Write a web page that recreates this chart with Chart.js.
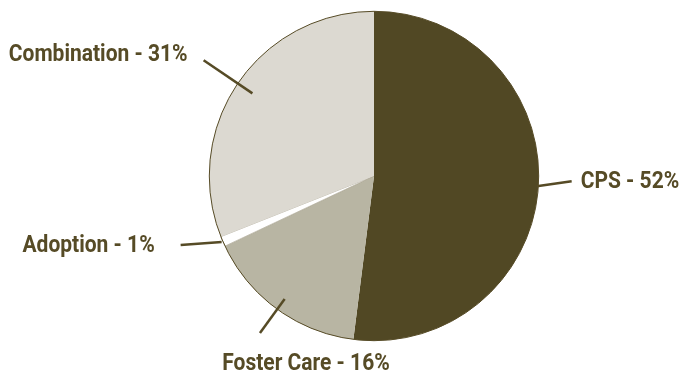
<!DOCTYPE html>
<html>
<head>
<meta charset="utf-8">
<script src="https://cdn.jsdelivr.net/npm/chart.js@4/dist/chart.umd.min.js"></script>
<style>
  html, body { margin: 0; padding: 0; background: #fff; }
  #wrap { width: 683px; height: 374px; }
</style>
</head>
<body>
<div id="wrap"><canvas id="programPie" width="683" height="374"></canvas></div>
<script>
// === Data ===
const categories = ["CPS", "Foster Care", "Adoption", "Combination"];
const shares = [52, 16, 1, 31];
const sliceColors = ["#514824", "#b8b5a3", "#ffffff", "#dcd9d1"];

// Leader line + label placement per slice (radii along the slice middle, text offset from line end)
const labelSpots = [
  { rIn: 163, tailX: 35, tailY: -5, dx: 9, dy: 1, align: "left" },
  { rIn: 152, rOut: 194, dx: 46, dy: 31, align: "center" },
  { rIn: 166, tailX: -41, tailY: 3, dx: -26, dy: 1, align: "right" },
  { rIn: 147, rOut: 206, dx: -16, dy: -5, align: "right" }
];

const ink = "#564b26";
const squeeze = 0.875; // narrow the bold face horizontally

// === Labels with leader lines ===
const leaderLabels = {
  id: "leaderLabels",
  afterDatasetsDraw(chart) {
    const ctx = chart.ctx;
    const arcs = chart.getDatasetMeta(0).data;

    // thin rim around the whole pie
    const a0 = arcs[0];
    ctx.save();
    ctx.beginPath();
    ctx.arc(a0.x, a0.y, a0.outerRadius, 0, Math.PI * 2);
    ctx.strokeStyle = ink;
    ctx.lineWidth = 1;
    ctx.stroke();

    ctx.font = "bold 24px Roboto, 'Liberation Sans', sans-serif";
    ctx.fillStyle = ink;
    ctx.textBaseline = "middle";

    arcs.forEach((arc, i) => {
      const spot = labelSpots[i];
      const mid = (arc.startAngle + arc.endAngle) / 2;
      const cx = arc.x, cy = arc.y;
      const sx = cx + Math.cos(mid) * spot.rIn;
      const sy = cy + Math.sin(mid) * spot.rIn;
      let ex, ey;
      if (spot.tailX !== undefined) {
        ex = sx + spot.tailX;
        ey = sy + spot.tailY;
      } else {
        ex = cx + Math.cos(mid) * spot.rOut;
        ey = cy + Math.sin(mid) * spot.rOut;
      }

      ctx.beginPath();
      ctx.moveTo(sx, sy);
      ctx.lineTo(ex, ey);
      ctx.strokeStyle = ink;
      ctx.lineWidth = 2.5;
      ctx.stroke();

      ctx.save();
      ctx.translate(ex + spot.dx, ey + spot.dy);
      ctx.scale(squeeze, 1);
      ctx.textAlign = spot.align;
      ctx.fillText(categories[i] + " - " + shares[i] + "%", 0, 0);
      ctx.restore();
    });
    ctx.restore();
  }
};

// === Chart ===
new Chart(document.getElementById("programPie"), {
  type: "pie",
  data: {
    labels: categories,
    datasets: [{
      data: shares,
      backgroundColor: sliceColors,
      borderColor: ["#514824", "#b8b5a3", "#9c957f", "#dcd9d1"],
      borderWidth: [0, 0, 0.6, 0]
    }]
  },
  options: {
    responsive: false,
    animation: false,
    layout: { padding: { top: 11, bottom: 33, left: 209, right: 144 } },
    plugins: {
      legend: { display: false },
      tooltip: { enabled: false }
    }
  },
  plugins: [leaderLabels]
});
</script>
</body>
</html>
